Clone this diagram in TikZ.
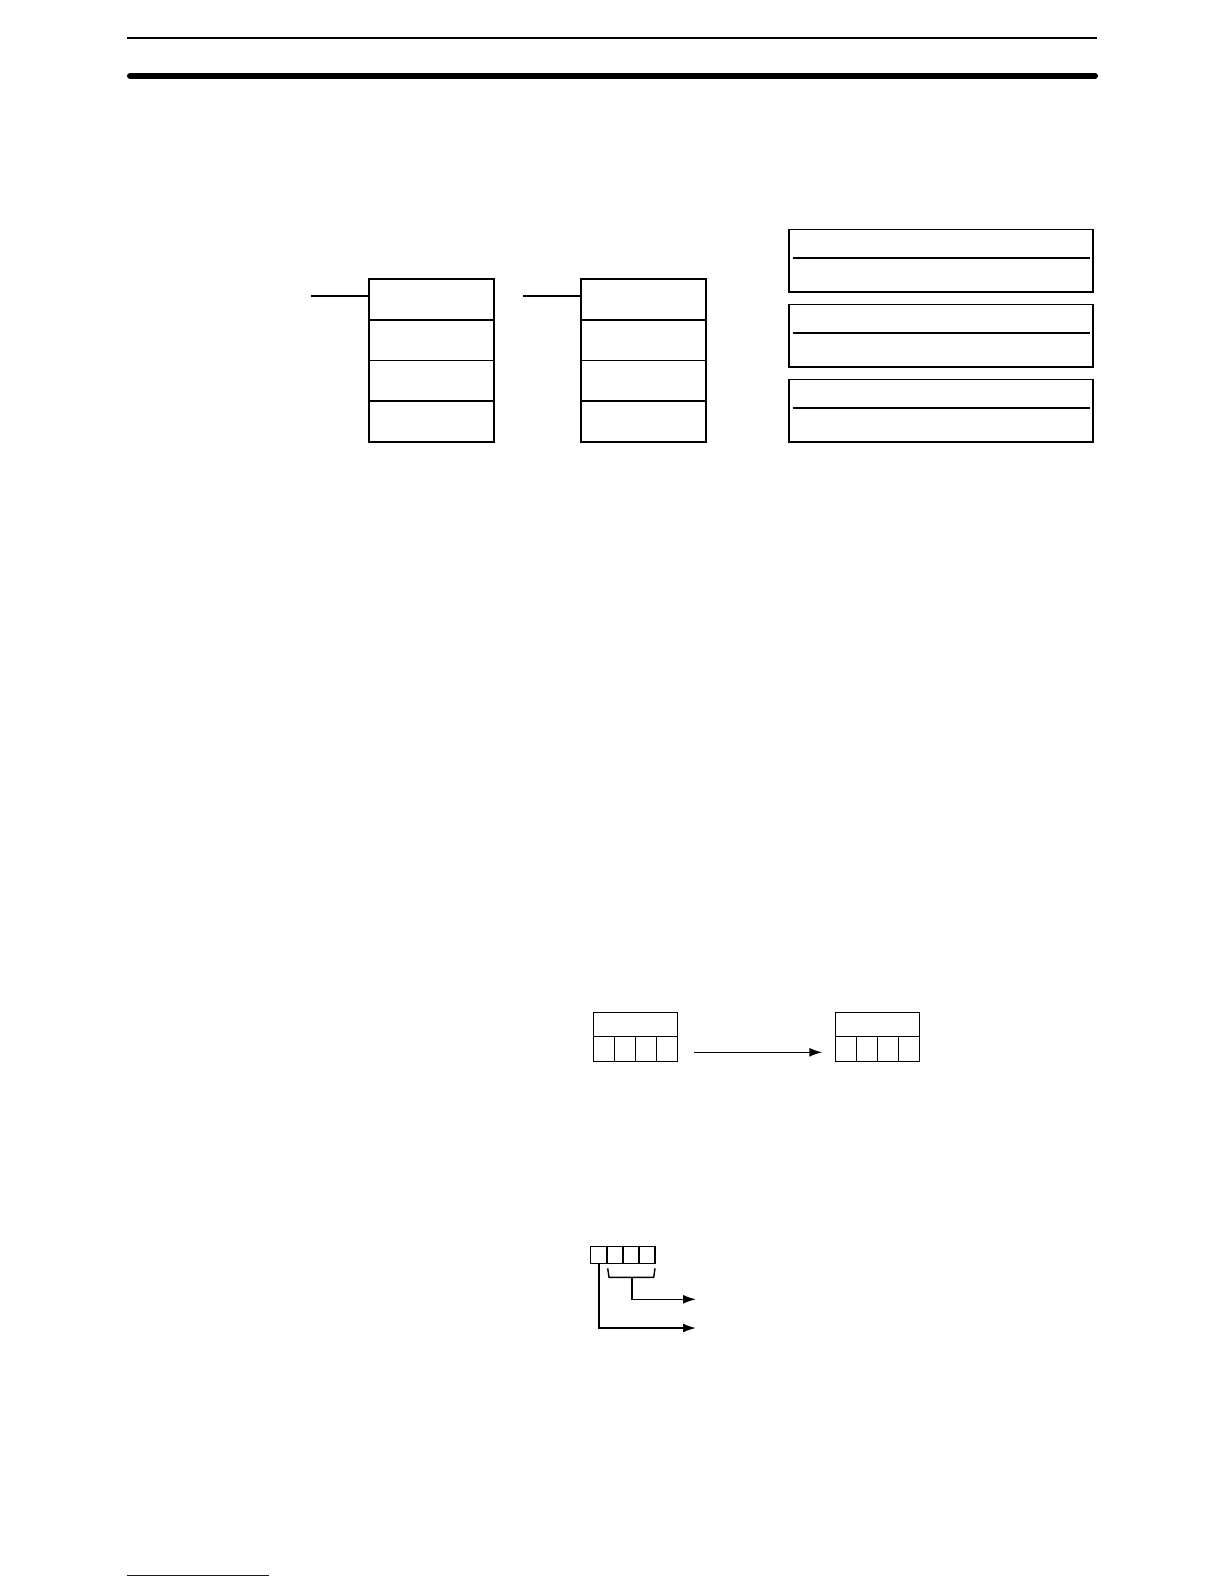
\documentclass[tikz,border=0pt]{standalone}
\usetikzlibrary{arrows.meta}
\definecolor{navyrule}{RGB}{10,10,170}
\begin{document}
\begin{tikzpicture}[x=1pt,y=-1pt,
  ln/.style={line width=1.6pt},
  cell/.style={draw,line width=1.6pt,inner sep=0pt,outer sep=0pt,anchor=north west,minimum width=#1},
  stackcell/.style={cell=125pt,minimum height=40.7pt},
  rbox/.style={cell=304pt,minimum height=62.7pt},
  wordtop/.style={cell=84pt,minimum height=24.3pt,line width=1.3pt},
  digit/.style={cell=21pt,minimum height=25pt,line width=1.3pt},
  tiny/.style={cell=16.1pt,minimum height=16.6pt,line width=1.4pt},
  arr/.style={line width=1.6pt,-{Latex[length=13pt,width=9pt]}}]
\useasboundingbox (0,0) rectangle (1224,1584);
% header rules
\coordinate (hl1) at (127,37.7); \coordinate (hr1) at (1097,37.7);
\coordinate (hl2) at (130,75.7); \coordinate (hr2) at (1095,75.7);
\draw[line width=2.2pt] (hl1) -- (hr1);
\draw[line width=6pt,line cap=round] (hl2) -- (hr2);
% register stacks
\foreach \i/\y in {1/279,2/319.7,3/360.4,4/401.1}{
  \node[stackcell] (A\i) at (369,\y) {};
  \node[stackcell] (B\i) at (581,\y) {};
}
\coordinate (Ain) at (311,296); \coordinate (Bin) at (523,296);
\draw[ln] (Ain) -- (Ain -| A1.west);
\draw[ln] (Bin) -- (Bin -| B1.west);
% right boxes
\node[rbox] (R1) at (789,229.5) {};
\node[rbox] (R2) at (789,304.5) {};
\node[rbox] (R3) at (789,379.5) {};
\foreach \r in {R1,R2,R3}{
  \draw[ln] ([xshift=3.5pt,yshift=3pt]\r.west) -- ([xshift=-3.5pt,yshift=3pt]\r.east);
}
% word boxes with arrow
\node[wordtop] (W1) at (593.3,1012.3) {};
\foreach \i in {0,1,2,3}{ \node[digit] (Wd\i) at ({593.3+21*\i},1036.3) {}; }
\node[wordtop] (W2) at (835.3,1012.3) {};
\foreach \i in {0,1,2,3}{ \node[digit] (Vd\i) at ({835.3+21*\i},1036.3) {}; }
\coordinate (as) at (694,1052.3);
\draw[arr] (as) -- ([xshift=-13pt]as -| W2.west);
% small register
\foreach \i in {0,1,2,3}{ \node[tiny] (T\i) at ({590.7+16.1*\i},1246.7) {}; }
\coordinate (bl) at (607.7,1268.3); \coordinate (br) at (655,1268.3);
\coordinate (bm) at (631.7,1277.3);
\draw[line width=1.4pt] (bl) -- (609,1277.3) -- (653.7,1277.3) -- (br);
\coordinate (e1) at (696,1299.3); \coordinate (e2) at (696,1328);
\draw[arr] (bm) |- (e1);
\draw[arr] (T0.south) |- (e2);
% footer rule
\coordinate (fl) at (127,1575.3); \coordinate (fr) at (269,1575.3);
\draw[navyrule,line width=1.4pt] (fl) -- (fr);
\end{tikzpicture}
\end{document}
